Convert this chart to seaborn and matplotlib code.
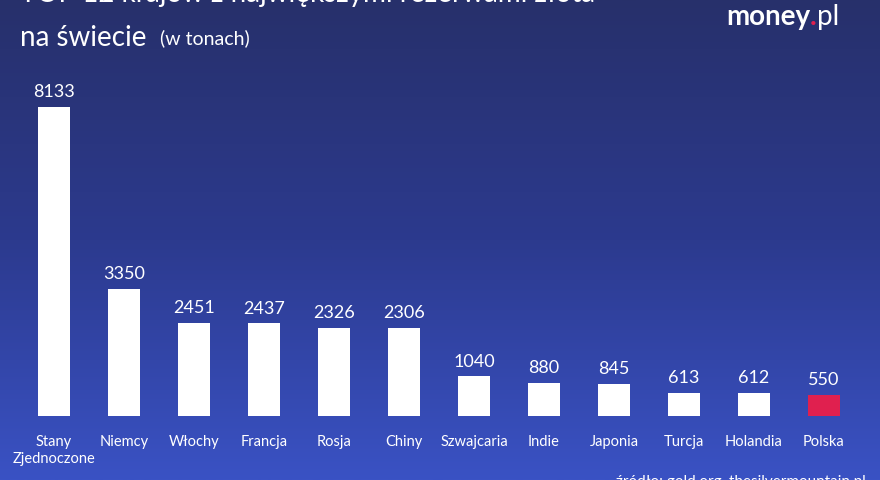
import numpy as np
import pandas as pd
import seaborn as sns
import matplotlib.pyplot as plt
from matplotlib.colors import LinearSegmentedColormap

countries = ["Stany\nZjednoczone", "Niemcy", "Włochy", "Francja", "Rosja", "Chiny",
             "Szwajcaria", "Indie", "Japonia", "Turcja", "Holandia", "Polska"]
tonnes = [8133, 3350, 2451, 2437, 2326, 2306, 1040, 880, 845, 613, 612, 550]
highlight = "Polska"

df = pd.DataFrame({"country": countries, "tonnes": tonnes})
colors = ["#e0204f" if c == highlight else "white" for c in countries]

sns.set_theme(style="white")
plt.rcParams['font.family'] = ['Lato', 'DejaVu Sans']

fig = plt.figure(figsize=(8.8, 4.8), dpi=100)
bg = fig.add_axes([0, 0, 1, 1], zorder=0)
grad = LinearSegmentedColormap.from_list("bg", ["#27306b", "#2c3a8e", "#3a52c4"])
bg.imshow(np.linspace(0, 1, 256).reshape(-1, 1), aspect="auto", cmap=grad,
          extent=[0, 1, 0, 1], origin="upper")
bg.axis("off")

ax = fig.add_axes([19 / 880, 64 / 480, 840 / 880, 371 / 480], zorder=1)
ax.patch.set_alpha(0)
sns.barplot(data=df, x="country", y="tonnes", hue="country", palette=colors,
            legend=False, width=0.46, ax=ax, saturation=1, linewidth=0)
ax.set_ylim(0, 8133 * 1.2)
ax.set_xlim(-0.5, len(countries) - 0.5)
for i, v in enumerate(tonnes):
    ax.text(i, v + 180, str(v), ha="center", va="bottom", color="white", fontsize=13)
ax.set_xlabel("")
ax.set_ylabel("")
ax.set_yticks([])
ax.tick_params(axis="x", colors="white", labelsize=10.5, length=0, pad=14)
for s in ax.spines.values():
    s.set_visible(False)

fig.text(20 / 880, 1.012, "TOP 12 krajów z największymi rezerwami złota",
         color="white", fontsize=20, va="center", ha="left")
fig.text(20 / 880, 1 - 38 / 480, "na świecie", color="white", fontsize=20,
         va="center", ha="left")
fig.text(160 / 880, 1 - 38 / 480, "(w tonach)", color="white", fontsize=14,
         va="center", ha="left")

# logo: money.pl with red dot
r = fig.canvas.get_renderer()
x0 = 726
y = 1 - 17 / 480
for part, col, w in [("money", "white", "bold"), (".", "#e0204f", "bold"), ("pl", "white", "normal")]:
    t = fig.text(x0 / 880, y, part, color=col, fontsize=20, fontweight=w,
                 va="center", ha="left")
    x0 += t.get_window_extent(renderer=r).width

fig.text(866 / 880, -0.005, "źródło: gold.org, thesilvermountain.pl", color="white",
         fontsize=11, va="center", ha="right")

fig.savefig("out.png", dpi=100)
